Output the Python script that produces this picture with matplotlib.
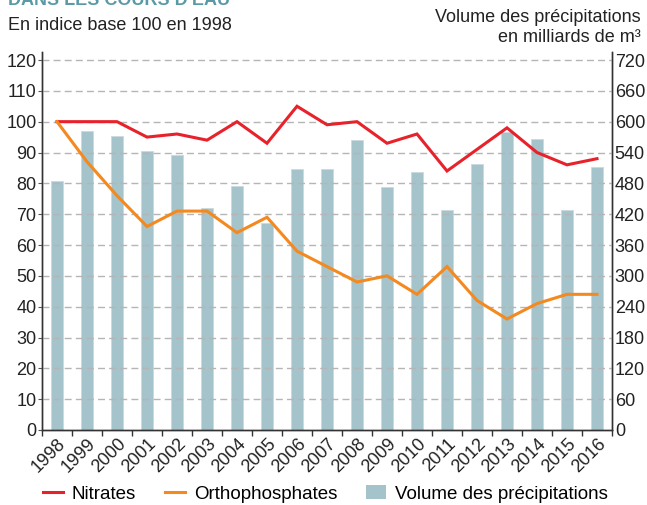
import matplotlib
matplotlib.use("Agg")
import matplotlib.pyplot as plt
import numpy as np
from matplotlib.lines import Line2D
from matplotlib.patches import Patch

plt.rcParams['font.family'] = ['Liberation Sans', 'DejaVu Sans']

years = ["1998", "1999", "2000", "2001", "2002", "2003", "2004", "2005", "2006", "2007",
         "2008", "2009", "2010", "2011", "2012", "2013", "2014", "2015", "2016"]
nitrates = [100, 100, 100, 95, 96, 94, 100, 93, 105, 99, 100, 93, 96, 84, 91, 98, 90, 86, 88]
orthophosphates = [100, 87, 76, 66, 71, 71, 64, 69, 58, 53, 48, 50, 44, 53, 42, 36, 41, 44, 44]
precipitations = [485, 582, 573, 543, 535, 432, 475, 402, 508, 508,
                  564, 473, 502, 428, 517, 579, 567, 428, 511]

left_ticks = list(range(0, 121, 10))
right_ticks = list(range(0, 721, 60))

W, H = 647, 505
fig = plt.figure(figsize=(W / 100, H / 100), dpi=100)
ax_l, ax_r, ax_b, ax_t = 42, 612, 430, 52
ax = fig.add_axes([ax_l / W, 1 - ax_b / H, (ax_r - ax_l) / W, (ax_b - ax_t) / H])
ax2 = ax.twinx()

x = np.arange(len(years))
top_left = 120 * (ax_b - ax_t) / (ax_b - 60)
ax.set_ylim(0, top_left)
ax2.set_ylim(0, top_left * 6)
ax.set_xlim(-0.5, len(years) - 0.5)

# grid
for v in left_ticks[1:]:
    ax.axhline(v, color='#b5b5b5', lw=1.0, ls=(0, (5, 3)), zorder=0)

ax2.bar(x, precipitations, width=0.4, color='#a5c3ca', edgecolor='#c9dadf', lw=0.6, zorder=1)
ax2.set_zorder(1)
ax.set_zorder(2)
ax.patch.set_visible(False)

ax.plot(x, nitrates, color='#e8222b', lw=2.2, zorder=3, solid_joinstyle='miter')
ax.plot(x, orthophosphates, color='#f3891f', lw=2.2, zorder=3, solid_joinstyle='miter')

ax.set_yticks(left_ticks)
ax.set_yticklabels([str(t) for t in left_ticks])
ax2.set_yticks(right_ticks)
ax2.set_yticklabels([str(t) for t in right_ticks])
ax.tick_params(axis='y', length=3, width=0.8, direction='out', color='#555555', pad=1,
               labelsize=13, colors='#222222')
ax2.tick_params(axis='y', length=0, pad=2, labelsize=13, colors='#222222')
ax.tick_params(axis='y', color='#555555')

ax.set_xticks(x)
ax.set_xticklabels(years, rotation=45, ha='right', rotation_mode='anchor', fontsize=13, color='#222222')
ax.tick_params(axis='x', length=0, pad=4)
ax.set_xticks(np.arange(-0.5, len(years), 1), minor=True)
ax.tick_params(axis='x', which='minor', length=4, width=1, direction='out', color='#333333')

for a in (ax, ax2):
    a.spines['top'].set_visible(False)
    for s in ('left', 'right', 'bottom'):
        a.spines[s].set_color('#333333')
        a.spines[s].set_linewidth(1.0)

# texts
fig.text(8 / W, 1 - 5 / H, "DANS LES COURS D'EAU", color='#5a9aa6', fontsize=13,
         fontweight='bold', va='baseline', ha='left')
fig.text(8 / W, 1 - 26 / H, "En indice base 100 en 1998", fontsize=13, va='center',
         ha='left', color='#222222')
fig.text(641 / W, 1 - 17 / H, "Volume des précipitations", fontsize=13, va='center',
         ha='right', color='#222222')
fig.text(641 / W, 1 - 37 / H, "en milliards de m³", fontsize=13, va='center',
         ha='right', color='#222222')

handles = [Line2D([0], [0], color='#e8222b', lw=2.2),
           Line2D([0], [0], color='#f3891f', lw=2.2),
           Patch(facecolor='#a5c3ca', edgecolor='none')]
labels = ["Nitrates", "Orthophosphates", "Volume des précipitations"]
fig.legend(handles, labels, loc='center left', bbox_to_anchor=(43 / W, 1 - 494 / H), ncol=3,
           frameon=False, fontsize=13.5, handlelength=1.05, handletextpad=0.48,
           columnspacing=1.55, borderaxespad=0, borderpad=0)

fig.savefig("out.png", dpi=100)
